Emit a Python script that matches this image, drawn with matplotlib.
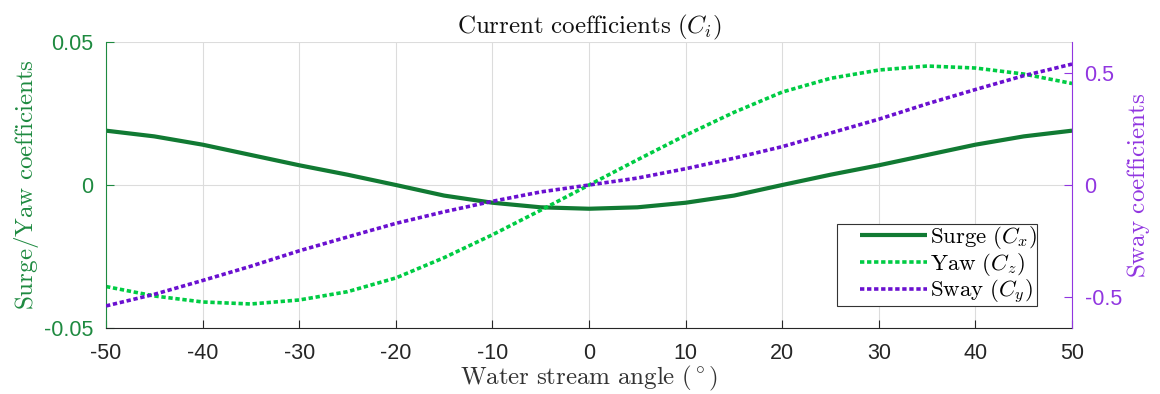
import matplotlib.pyplot as plt
import numpy as np
from matplotlib.legend_handler import HandlerLine2D

plt.rcParams["mathtext.fontset"] = "cm"
plt.rcParams["font.family"] = ["Liberation Sans", "DejaVu Sans"]

# water stream angle (deg)
angles = np.arange(-50, 51, 5)

# surge coefficient Cx (left axis)
surge = [0.0190, 0.0170, 0.0141, 0.0105, 0.0069, 0.0036, 0.0000, -0.0037, -0.0062, -0.0078, -0.0083,
         -0.0078, -0.0062, -0.0037, 0.0000, 0.0036, 0.0069, 0.0105, 0.0141, 0.0170, 0.0190]
# yaw coefficient Cz (left axis)
yaw = [-0.0355, -0.0388, -0.0409, -0.0416, -0.0402, -0.0373, -0.0325, -0.0254, -0.0174, -0.0088, 0.0,
       0.0088, 0.0174, 0.0254, 0.0325, 0.0373, 0.0402, 0.0416, 0.0409, 0.0388, 0.0355]
# sway coefficient Cy (right axis)
sway = [-0.542, -0.490, -0.428, -0.364, -0.295, -0.233, -0.172, -0.120, -0.073, -0.031, 0.0,
        0.031, 0.073, 0.120, 0.172, 0.233, 0.295, 0.364, 0.428, 0.490, 0.542]

x_ticks = np.arange(-50, 51, 10)
left_ticks = [-0.05, 0, 0.05]
left_tick_labels = ["-0.05", "0", "0.05"]
right_ticks = [-0.5, 0, 0.5]
right_tick_labels = ["-0.5", "0", "0.5"]

c_surge = "#117a33"
c_yaw = "#00cc44"
c_sway = "#6a10d0"
c_left = "#1e8a40"
c_right = "#9136e0"
c_dark = "#262626"

fig = plt.figure(figsize=(11.6, 3.94), dpi=100)
ax = fig.add_axes([0.0914, 0.1675, 0.8328, 0.7259])
ax2 = ax.twinx()

dot = (0, (1.2, 0.75))
h1, = ax.plot(angles, surge, color=c_surge, lw=3.0, solid_capstyle="butt")
h2, = ax.plot(angles, yaw, color=c_yaw, lw=2.6, linestyle=dot)
h3, = ax2.plot(angles, sway, color=c_sway, lw=2.6, linestyle=dot)

ax.set_xlim(-50, 50)
ax.set_ylim(-0.05, 0.05)
ax2.set_ylim(-0.641, 0.641)

ax.set_xticks(x_ticks)
ax.set_xticklabels([str(v) for v in x_ticks])
ax.set_yticks(left_ticks)
ax.set_yticklabels(left_tick_labels)
ax2.set_yticks(right_ticks)
ax2.set_yticklabels(right_tick_labels)

ax.grid(True, color="#dcdcdc", lw=0.8)
ax.set_axisbelow(True)

for a in (ax, ax2):
    a.spines["top"].set_visible(False)
ax.spines["right"].set_visible(False)
ax2.spines["left"].set_visible(False)
ax2.spines["bottom"].set_visible(False)
ax.spines["bottom"].set_color(c_dark)
ax.spines["left"].set_color(c_left)
ax2.spines["right"].set_color(c_right)

ax.tick_params(axis="x", direction="in", length=6, colors=c_dark, labelsize=15.5, pad=11)
ax.tick_params(axis="y", direction="in", length=6, colors=c_left, labelsize=15.5, pad=9)
ax2.tick_params(axis="y", direction="in", length=6, colors=c_right, labelsize=15.5, pad=9)

ax.set_title(r"$\mathrm{Current\ coefficients}\ (C_i)$", fontsize=18, color="#111111", pad=5)
ax.set_xlabel(r"$\mathrm{Water\ stream\ angle}\ (^\circ)$", fontsize=18, color="#333333", labelpad=0)
ax.set_ylabel(r"$\mathrm{Surge/Yaw\ coefficients}$", fontsize=18, color=c_left, labelpad=2)
ax2.set_ylabel(r"$\mathrm{Sway\ coefficients}$", fontsize=18, color=c_right, labelpad=2)

# shorter line inside a wider handle box leaves room on the left of the legend
pad_handler = HandlerLine2D(xpad=1.0)
leg = ax2.legend([h1, h2, h3],
                 [r"$\mathrm{Surge}\ (C_x)$", r"$\mathrm{Yaw}\ (C_z)$", r"$\mathrm{Sway}\ (C_y)$"],
                 loc="lower right", bbox_to_anchor=(0.964, 0.077), fontsize=16.5,
                 frameon=True, fancybox=False, edgecolor="#333333", framealpha=1,
                 handlelength=3.9, handletextpad=0.15, borderpad=0.0, labelspacing=0.0,
                 borderaxespad=0, handler_map={h1: pad_handler, h2: pad_handler, h3: pad_handler})
leg.get_frame().set_linewidth(0.8)

fig.savefig("out.png", dpi=100)
